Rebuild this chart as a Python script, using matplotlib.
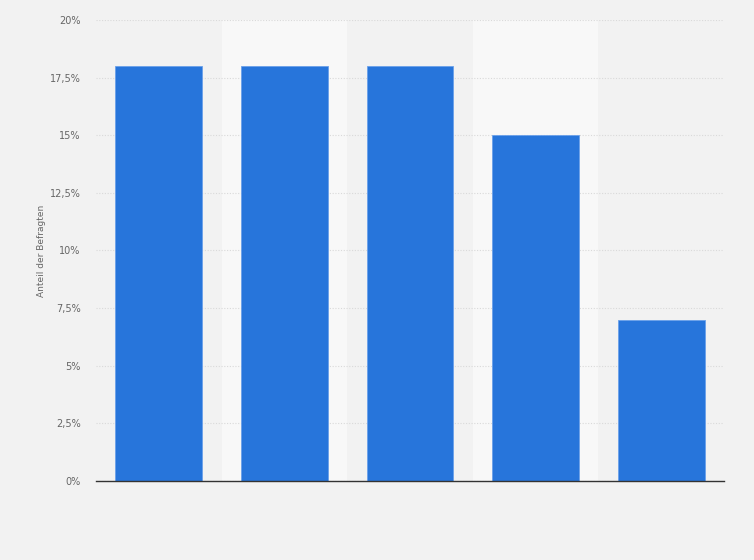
import numpy as np
import matplotlib.pyplot as plt

# Werte der Umfrage (Anteil der Befragten in %)
categories = ['A', 'B', 'C', 'D', 'E']
values = [18, 18, 18, 15, 7]
yticks = [0, 2.5, 5, 7.5, 10, 12.5, 15, 17.5, 20]
ytick_labels = ['0%', '2,5%', '5%', '7,5%', '10%', '12,5%', '15%', '17,5%', '20%']

bg = '#f2f2f2'
fig = plt.figure(figsize=(7.54, 5.6), dpi=100, facecolor=bg)
ax = fig.add_axes([0.1273, 0.1411, 0.8329, 0.8232])
ax.set_facecolor(bg)

x = np.arange(len(categories))
# abwechselnde Hintergrundstreifen
for i in x:
    if i % 2 == 1:
        ax.axvspan(i - 0.5, i + 0.5, color='#f8f8f8', zorder=0, lw=0)

ax.bar(x, values, width=0.69, color='#2775db', edgecolor='#6aa0ea', linewidth=0.6, zorder=3)

ax.set_xlim(-0.5, len(categories) - 0.5)
ax.set_ylim(0, 20)
ax.set_yticks(yticks)
ax.set_yticklabels(ytick_labels)
ax.set_xticks([])
ax.yaxis.grid(True, color='#d9d9d9', linestyle=(0, (1, 1.5)), linewidth=0.8, zorder=1)
ax.tick_params(axis='y', length=0, pad=11, labelsize=7, labelcolor='#666666')

for s in ['top', 'right', 'left']:
    ax.spines[s].set_visible(False)
ax.spines['bottom'].set_color('#333333')
ax.spines['bottom'].set_linewidth(1.0)
ax.spines['bottom'].set_zorder(4)

ax.set_ylabel('Anteil der Befragten', fontsize=6.5, color='#666666')
ax.yaxis.set_label_coords(-0.079, 0.5)

plt.savefig('out.png', dpi=100, facecolor=bg)
